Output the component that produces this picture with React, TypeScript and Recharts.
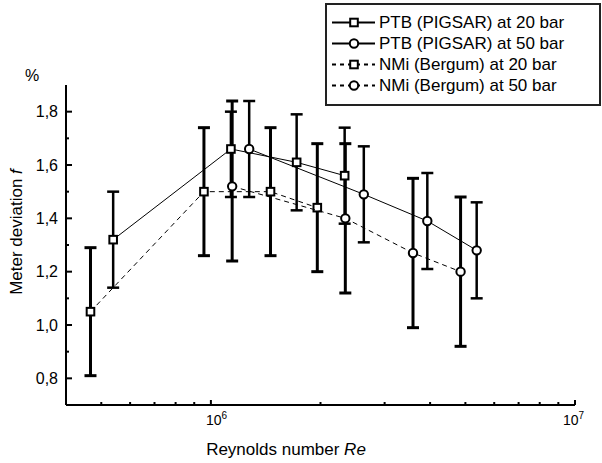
import React from "react";
import { ComposedChart, Scatter, XAxis, YAxis, ErrorBar } from "recharts";

// Reynolds number, meter deviation (%), lower and upper error limits
const ptb20Re = [5.39e5, 1.135e6, 1.72e6, 2.33e6];
const ptb20F = [1.32, 1.66, 1.61, 1.56];
const ptb20Lo = [1.14, 1.48, 1.43, 1.38];
const ptb20Hi = [1.5, 1.8, 1.79, 1.74];

const ptb50Re = [1.274e6, 2.63e6, 3.93e6, 5.37e6];
const ptb50F = [1.66, 1.49, 1.39, 1.28];
const ptb50Lo = [1.48, 1.31, 1.21, 1.1];
const ptb50Hi = [1.84, 1.67, 1.57, 1.46];

const nmi20Re = [4.67e5, 9.57e5, 1.458e6, 1.96e6];
const nmi20F = [1.05, 1.5, 1.5, 1.44];
const nmi20Lo = [0.81, 1.26, 1.26, 1.2];
const nmi20Hi = [1.29, 1.74, 1.74, 1.68];

const nmi50Re = [1.144e6, 2.34e6, 3.59e6, 4.85e6];
const nmi50F = [1.52, 1.4, 1.27, 1.2];
const nmi50Lo = [1.24, 1.12, 0.99, 0.92];
const nmi50Hi = [1.84, 1.68, 1.55, 1.48];

const reTicks = [5e5, 6e5, 7e5, 8e5, 9e5, 1e6, 2e6, 3e6, 4e6, 5e6, 6e6, 7e6, 8e6, 9e6, 1e7];
const fTicks = [0.8, 0.9, 1.0, 1.1, 1.2, 1.3, 1.4, 1.5, 1.6, 1.7, 1.8];

const FONT = "'Liberation Sans', Arial, Helvetica, sans-serif";

const toRows = (re: number[], f: number[], lo: number[], hi: number[]) =>
  re.map((r, i) => ({ re: r, f: f[i], err: [f[i] - lo[i], hi[i] - f[i]] }));

type Marker = "square" | "circle";

const series = [
  { name: "PTB (PIGSAR) at 20 bar", data: toRows(ptb20Re, ptb20F, ptb20Lo, ptb20Hi), marker: "square" as Marker, dashed: false, errWidth: 2.5 },
  { name: "PTB (PIGSAR) at 50 bar", data: toRows(ptb50Re, ptb50F, ptb50Lo, ptb50Hi), marker: "circle" as Marker, dashed: false, errWidth: 2.5 },
  { name: "NMi (Bergum) at 20 bar", data: toRows(nmi20Re, nmi20F, nmi20Lo, nmi20Hi), marker: "square" as Marker, dashed: true, errWidth: 3 },
  { name: "NMi (Bergum) at 50 bar", data: toRows(nmi50Re, nmi50F, nmi50Lo, nmi50Hi), marker: "circle" as Marker, dashed: true, errWidth: 3 },
];

const drawMarker = (marker: Marker, cx: number, cy: number) =>
  marker === "square" ? (
    <rect x={cx - 3.8} y={cy - 3.8} width={7.6} height={7.6} fill="#fff" stroke="#000" strokeWidth={2} />
  ) : (
    <circle cx={cx} cy={cy} r={4.2} fill="#fff" stroke="#000" strokeWidth={2} />
  );

const XTick = (props: any) => {
  const { x, y, payload } = props;
  const v = payload.value as number;
  const lg = Math.log10(v);
  const exp = Math.round(lg);
  const major = Math.abs(lg - exp) < 1e-6;
  const dx = v >= 1e7 ? -12 : -5;
  return (
    <g>
      <line x1={x} y1={y} x2={x} y2={y - (major ? 5 : 3)} stroke="#000" strokeWidth={2} />
      {major && (
        <text x={x + dx} y={y + 20} fontSize={14} fontFamily={FONT} fill="#000">
          10
          <tspan dy={-6} fontSize={10}>
            {exp}
          </tspan>
        </text>
      )}
    </g>
  );
};

const YTick = (props: any) => {
  const { x, y, payload } = props;
  const v = payload.value as number;
  const major = Math.round(v * 10) % 2 === 0;
  return (
    <g>
      <line x1={x} y1={y} x2={x + (major ? 6 : 3)} y2={y} stroke="#000" strokeWidth={2} />
      {major && (
        <text x={x - 8} y={y + 5.5} textAnchor="end" fontSize={16} fontFamily={FONT} fill="#000">
          {v.toFixed(1).replace(".", ",")}
        </text>
      )}
    </g>
  );
};

const YLabel = (props: any) => {
  const vb = props.viewBox;
  const cx = vb.x + 16;
  const cy = vb.y + 147;
  return (
    <g fontFamily={FONT} fill="#000">
      <text x={vb.x + 32} y={vb.y - 4} textAnchor="middle" fontSize={16}>
        %
      </text>
      <text x={cx} y={cy} transform={`rotate(-90, ${cx}, ${cy})`} textAnchor="middle" dominantBaseline="central" fontSize={17}>
        Meter deviation <tspan fontStyle="italic">f</tspan>
      </text>
    </g>
  );
};

const XLabel = (props: any) => {
  const vb = props.viewBox;
  return (
    <text x={vb.x + 220} y={vb.y + 50} textAnchor="middle" fontSize={17} fontFamily={FONT} fill="#000">
      Reynolds number <tspan fontStyle="italic">Re</tspan>
    </text>
  );
};

function LegendBox() {
  return (
    <div
      style={{
        position: "absolute",
        left: 325,
        top: 3,
        width: 276,
        height: 103,
        border: "2px solid #222",
        boxSizing: "border-box",
        background: "#fff",
        paddingTop: 7,
        fontFamily: FONT,
        fontSize: 17,
      }}
    >
      {series.map((s) => (
        <div key={s.name} style={{ display: "flex", alignItems: "center", height: 21, whiteSpace: "nowrap" }}>
          <svg width={48} height={21} style={{ marginLeft: 4 }}>
            <line x1={1} y1={10.5} x2={44} y2={10.5} stroke="#000" strokeWidth={2} strokeDasharray={s.dashed ? "4 4" : undefined} />
            {drawMarker(s.marker, 23, 10.5)}
          </svg>
          <span style={{ color: "#000" }}>{s.name}</span>
        </div>
      ))}
    </div>
  );
}

export default function App() {
  return (
    <div style={{ position: "absolute", left: 0, top: 0, width: 602, height: 463, background: "#fff" }}>
      <ComposedChart width={602} height={463} margin={{ top: 85, right: 27, bottom: 0, left: 0 }}>
        <XAxis
          dataKey="re"
          type="number"
          scale="log"
          domain={[4e5, 1e7]}
          allowDataOverflow
          ticks={reTicks}
          interval={0}
          height={58}
          tickSize={0}
          tickMargin={0}
          tickLine={false}
          axisLine={{ stroke: "#000", strokeWidth: 2 }}
          tick={<XTick />}
          label={{ value: "Reynolds number Re", content: XLabel }}
        />
        <YAxis
          dataKey="f"
          type="number"
          domain={[0.7, 1.9]}
          allowDataOverflow
          ticks={fTicks}
          interval={0}
          width={66}
          tickSize={0}
          tickMargin={0}
          tickLine={false}
          axisLine={{ stroke: "#000", strokeWidth: 2 }}
          tick={<YTick />}
          label={{ value: "Meter deviation f", content: YLabel }}
        />
        {series.map((s) => (
          <Scatter
            key={s.name}
            name={s.name}
            data={s.data}
            isAnimationActive={false}
            line={{ stroke: "#000", strokeWidth: 1, strokeDasharray: s.dashed ? "5 4" : undefined }}
            lineType="joint"
            shape={(p: any) => drawMarker(s.marker, p.cx, p.cy)}
          >
            <ErrorBar dataKey="err" direction="y" width={6} stroke="#000" strokeWidth={s.errWidth} isAnimationActive={false} />
          </Scatter>
        ))}
      </ComposedChart>
      <LegendBox />
    </div>
  );
}
